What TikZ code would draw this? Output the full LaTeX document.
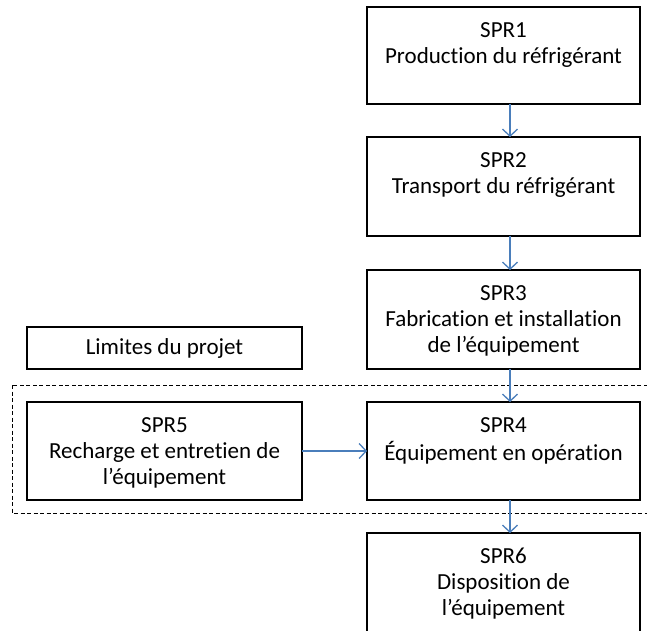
\documentclass[tikz,border=0pt]{standalone}
\usepackage{fontspec}
\setmainfont{Carlito}[Ligatures={NoCommon}]
\usetikzlibrary{arrows.meta}
\definecolor{arrowblue}{HTML}{4A7EBB}
\newcommand\boxcontent[3]{\begin{minipage}[t][#2pt][t]{#1pt}\centering\vspace*{12.5pt}\strut #3\end{minipage}}
\begin{document}
\begin{tikzpicture}[x=1pt,y=-1pt,
  box/.style={draw=black,line width=1.3pt,inner sep=0pt,outer sep=0pt,anchor=north west,font=\fontsize{23}{26}\selectfont},
  flow/.style={draw=arrowblue,line width=1.3pt,-{Straight Barb[length=7pt,width=15pt,line width=1.3pt]}},
  bound/.style={draw=black,line width=0.9pt,dash pattern=on 4pt off 2.5pt}]
\useasboundingbox (0,0) rectangle (647,630);
\clip (0,0) rectangle (647,630);
\draw[bound] (12,385) rectangle (660,513);
\node[box] (s1) at (367,7) {\boxcontent{273}{97}{SPR1\\Production du réfrigérant}};
\node[box] (s2) at (367,137) {\boxcontent{273}{99}{SPR2\\Transport du réfrigérant}};
\node[box] (s3) at (367,270) {\boxcontent{273}{99}{SPR3\\Fabrication et installation\\de l’équipement}};
\node[box] (s4) at (367,402) {\boxcontent{273}{98}{SPR4\\Équipement en opération}};
\node[box] (s5) at (27,402) {\boxcontent{275}{98}{SPR5\\Recharge et entretien de\\l’équipement}};
\node[box] (s6) at (367,533) {\boxcontent{273}{99}{SPR6\\Disposition de\\l’équipement}};
\node[box,minimum width=275pt,minimum height=42pt] (lim) at (27,327) {Limites du projet};
\draw[flow] ([xshift=6.5pt]s1.south) -- ([xshift=6.5pt]s2.north);
\draw[flow] ([xshift=6.5pt]s2.south) -- ([xshift=6.5pt]s3.north);
\draw[flow] ([xshift=6.5pt]s3.south) -- ([xshift=6.5pt]s4.north);
\draw[flow] ([xshift=6.5pt]s4.south) -- ([xshift=6.5pt]s6.north);
\draw[flow] (s5.east) -- (s4.west);
\end{tikzpicture}
\end{document}
